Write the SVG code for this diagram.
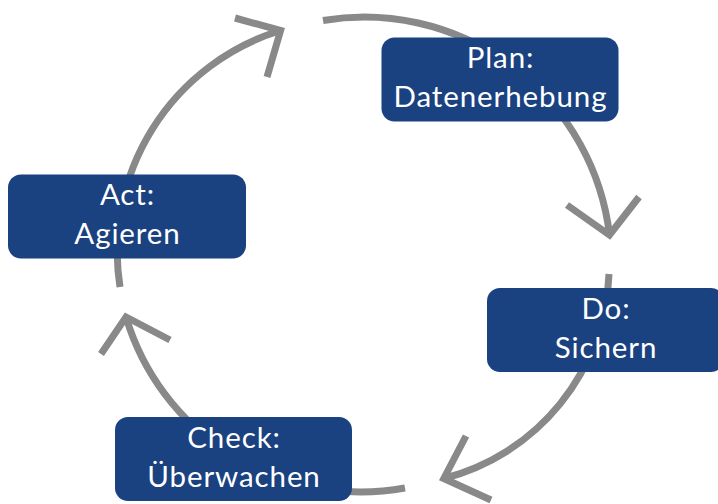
<svg xmlns="http://www.w3.org/2000/svg" width="718" height="504" viewBox="0 0 718 504">
<style>
.arc{fill:none;stroke:#898989;stroke-width:7;stroke-linecap:butt}
.head{fill:none;stroke:#898989;stroke-width:7;stroke-linejoin:miter;stroke-linecap:butt}
.box{fill:#1a4180}
.lbl{fill:#ffffff;font-family:Lato,"Open Sans","Liberation Sans",sans-serif;font-size:29.5px;letter-spacing:0.9px;text-anchor:middle}
</style>
<rect width="718" height="504" fill="#ffffff"/>
<g id="connectors">
<path class="arc" d="M120 287 A231 231 0 0 1 280.6 30.5"/>
<polyline class="head" points="235,18 280.6,30.5 267,77"/>
<path class="arc" d="M323 20.5 A247 247 0 0 1 609.5 235"/>
<polyline class="head" points="567,205 609.5,235 639,197"/>
<path class="arc" d="M609 274 A220 220 0 0 1 443.8 478.5"/>
<polyline class="head" points="466,436 443.8,478.5 491,500"/>
<path class="arc" d="M405 488 A245 245 0 0 1 126 317"/>
<polyline class="head" points="101,354 126,317 170,340"/>
</g>
<g id="plan">
<rect class="box" x="381.5" y="37.5" width="237" height="84" rx="13"/>
<text class="lbl" x="500.5" y="68">Plan:</text>
<text class="lbl" x="500.5" y="107">Datenerhebung</text>
</g>
<g id="do">
<rect class="box" x="487" y="288" width="237" height="84" rx="13"/>
<text class="lbl" x="606" y="318.5">Do:</text>
<text class="lbl" x="606" y="357.5">Sichern</text>
</g>
<g id="check">
<rect class="box" x="115" y="417" width="237" height="84" rx="13"/>
<text class="lbl" x="234" y="447.5">Check:</text>
<text class="lbl" x="234" y="486.5">Überwachen</text>
</g>
<g id="act">
<rect class="box" x="8" y="174.5" width="238" height="84" rx="13"/>
<text class="lbl" x="127.5" y="204.5">Act:</text>
<text class="lbl" x="127.5" y="244">Agieren</text>
</g>
</svg>
